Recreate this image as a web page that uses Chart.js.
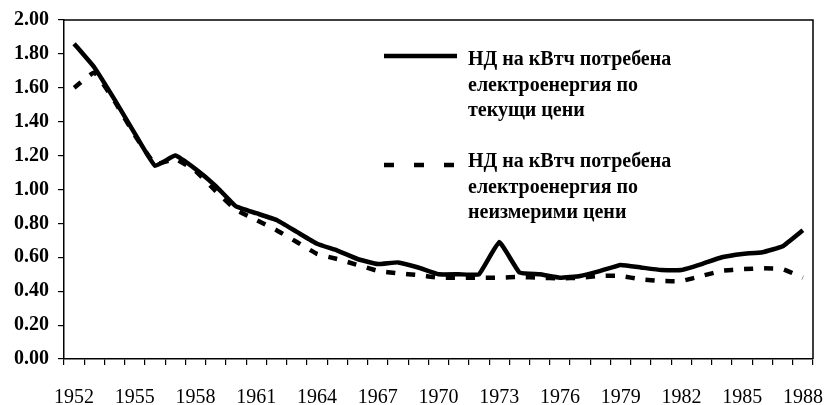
<!DOCTYPE html>
<html>
<head>
<meta charset="utf-8">
<script src="https://cdn.jsdelivr.net/npm/chart.js@4.4.1/dist/chart.umd.min.js"></script>
<style>
  html, body { margin: 0; padding: 0; background: #fff; }
  #wrap { width: 828px; height: 405px; position: relative; }
</style>
</head>
<body>
<div id="wrap"><canvas id="c" width="828" height="405"></canvas></div>
<script>
const years = [1952,1953,1954,1955,1956,1957,1958,1959,1960,1961,1962,1963,1964,1965,1966,1967,1968,1969,1970,
               1971,1972,1973,1974,1975,1976,1977,1978,1979,1980,1981,1982,1983,1984,1985,1986,1987,1988];
const tickLabels = [1952,1955,1958,1961,1964,1967,1970,1973,1976,1979,1982,1985,1988];

const currentPrices = [1.86,1.72,1.53,1.33,1.14,1.20,1.12,1.02,0.90,0.86,0.82,0.75,0.68,0.64,0.59,0.56,0.57,0.54,0.50,
                       0.50,0.50,0.69,0.51,0.50,0.48,0.49,0.52,0.555,0.54,0.525,0.525,0.56,0.60,0.62,0.63,0.665,0.76];
const constantPrices = [1.60,1.69,1.52,1.32,1.15,1.18,1.11,0.99,0.88,0.82,0.76,0.69,0.62,0.59,0.555,0.52,0.505,0.495,0.48,
                        0.48,0.48,0.48,0.484,0.48,0.475,0.48,0.49,0.49,0.47,0.46,0.46,0.49,0.52,0.53,0.535,0.53,0.48];

const seriesNames = [
  ["НД на кВтч потребена", "електроенергия по", "текущи цени"],
  ["НД на кВтч потребена", "електроенергия по", "неизмерими цени"]
];

const serif = "'Liberation Serif', 'DejaVu Serif', serif";

const frame = {
  id: 'frame',
  afterDraw(chart) {
    const ctx = chart.ctx, a = chart.chartArea;
    ctx.save();
    ctx.strokeStyle = '#000';
    ctx.lineWidth = 1.5;
    ctx.beginPath();
    ctx.moveTo(a.left, a.top);
    ctx.lineTo(a.right, a.top);
    ctx.lineTo(a.right, a.bottom);
    ctx.stroke();

    // legend
    ctx.lineWidth = 4.5;
    ctx.lineCap = 'butt';
    ctx.beginPath();
    ctx.setLineDash([]);
    ctx.moveTo(384, 56); ctx.lineTo(457, 56);
    ctx.stroke();
    ctx.beginPath();
    ctx.setLineDash([10, 20]);
    ctx.moveTo(384, 165); ctx.lineTo(456, 165);
    ctx.stroke();
    ctx.setLineDash([]);

    ctx.fillStyle = '#000';
    ctx.font = 'bold 20px ' + serif;
    ctx.textAlign = 'left';
    ctx.textBaseline = 'alphabetic';
    const tops = [65, 167];
    seriesNames.forEach((lines, k) => {
      lines.forEach((t, i) => ctx.fillText(t, 468, tops[k] + i * 25.5));
    });
    ctx.restore();
  }
};

new Chart(document.getElementById('c'), {
  type: 'line',
  data: {
    labels: years,
    datasets: [
      { label: seriesNames[0].join(' '), data: currentPrices, borderColor: '#000', borderWidth: 4.5,
        pointRadius: 0, tension: 0.1, fill: false },
      { label: seriesNames[1].join(' '), data: constantPrices, borderColor: '#000', borderWidth: 4.5,
        borderDash: [9, 11], pointRadius: 0, tension: 0.1, fill: false }
    ]
  },
  options: {
    responsive: false,
    animation: false,
    devicePixelRatio: 1,
    layout: { padding: { top: 20, right: 15, left: 0, bottom: 0 } },
    plugins: { legend: { display: false }, tooltip: { enabled: false } },
    scales: {
      x: {
        type: 'category',
        offset: true,
        grid: { display: true, drawOnChartArea: false, drawTicks: true, tickLength: 6, color: '#000', lineWidth: 1.2, offset: true },
        border: { display: true, color: '#000', width: 1.5 },
        ticks: {
          autoSkip: false, maxRotation: 0, minRotation: 0, padding: 21,
          color: '#000', font: { family: serif, size: 20 },
          callback: function(v, i) { const y = years[i]; return tickLabels.includes(y) ? String(y) : ''; }
        },
        afterFit(s) { s.height = 46; s.paddingLeft = 0; s.paddingRight = 0; }
      },
      y: {
        min: 0, max: 2,
        grid: { display: true, drawOnChartArea: false, drawTicks: true, tickLength: 6, color: '#000', lineWidth: 1.2 },
        border: { display: true, color: '#000', width: 1.5 },
        ticks: {
          stepSize: 0.2, padding: 9, color: '#000',
          font: { family: serif, size: 20, weight: 'bold' },
          callback: v => Number(v).toFixed(2)
        },
        afterFit(s) { s.width = 64; s.paddingTop = 0; s.paddingBottom = 0; }
      }
    }
  },
  plugins: [frame]
});
</script>
</body>
</html>
